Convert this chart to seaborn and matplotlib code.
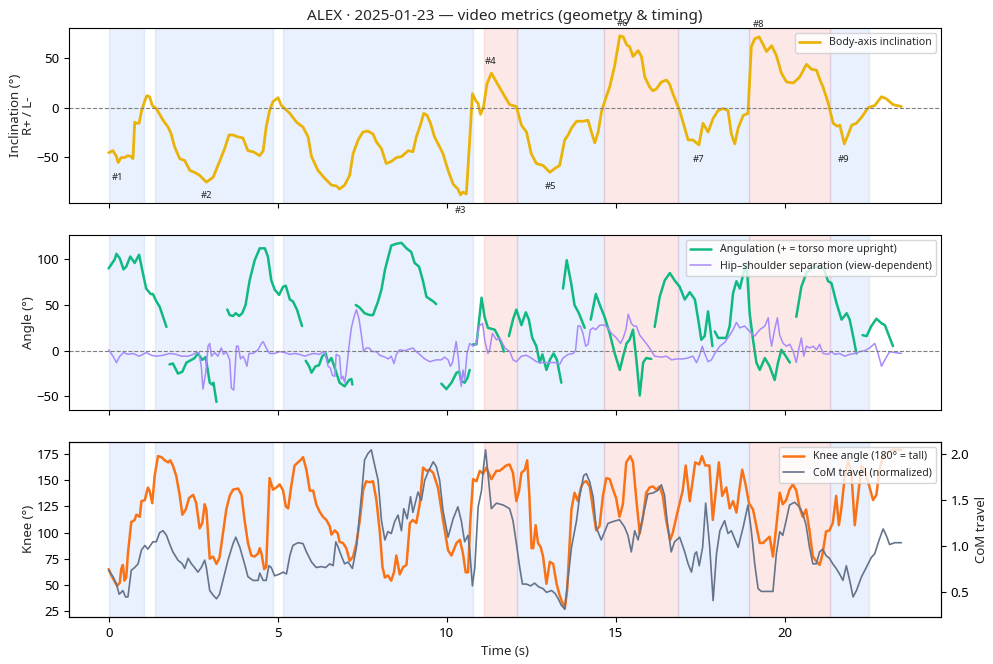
import numpy as np
import pandas as pd
import matplotlib
matplotlib.use("Agg")
import matplotlib.pyplot as plt
import seaborn as sns

# ---- data ----
# body-axis inclination (deg), R+ / L-
incl_t = [0, 0.13, 0.23, 0.28, 0.37, 0.47, 0.57, 0.67, 0.72, 0.77, 0.82, 0.9, 0.97, 1.07, 1.13, 1.21,
          1.29, 1.41, 1.61, 1.76, 1.85, 1.95, 2.1, 2.25, 2.4, 2.54, 2.69, 2.89, 3.09, 3.28, 3.43, 3.56,
          3.68, 3.83, 3.97, 4.12, 4.27, 4.47, 4.57, 4.66, 4.76, 4.86, 5.01, 5.11, 5.21, 5.36, 5.56, 5.75,
          5.9, 6.0, 6.19, 6.39, 6.59, 6.74, 6.83, 6.98, 7.13, 7.23, 7.38, 7.52, 7.67, 7.82, 7.92, 8.07,
          8.21, 8.36, 8.51, 8.66, 8.76, 8.86, 9.0, 9.1, 9.22, 9.32, 9.42, 9.52, 9.64, 9.79, 9.89, 10.04,
          10.19, 10.33, 10.41, 10.48, 10.58, 10.68, 10.76, 10.86, 10.93, 11.0, 11.09, 11.19, 11.32, 11.52,
          11.67, 11.86, 12.06, 12.21, 12.36, 12.5, 12.65, 12.85, 13.05, 13.2, 13.34, 13.49, 13.59, 13.69,
          13.84, 14.03, 14.18, 14.28, 14.38, 14.48, 14.58, 14.67, 14.82, 14.97, 15.12, 15.22, 15.32, 15.41,
          15.51, 15.66, 15.76, 15.86, 16.0, 16.1, 16.2, 16.35, 16.5, 16.59, 16.69, 16.89, 16.99, 17.14,
          17.28, 17.46, 17.58, 17.73, 17.88, 18.03, 18.17, 18.32, 18.42, 18.52, 18.62, 18.77, 18.91, 19.01,
          19.11, 19.24, 19.36, 19.46, 19.61, 19.75, 19.9, 20.05, 20.25, 20.44, 20.64, 20.79, 20.94, 21.03,
          21.13, 21.28, 21.43, 21.55, 21.63, 21.76, 21.88, 21.98, 22.12, 22.27, 22.47, 22.66, 22.86, 23.0,
          23.2, 23.45]
incl_v = [-46, -44, -50, -56, -51, -51, -49, -50, -52, -15, -16, -16, -4, 7, 12, 11,
          2, -1, -13, -20, -27, -40, -52, -54, -64, -66, -69, -76, -71, -55, -42, -28,
          -28, -30, -31, -44, -45, -49, -44, -20, -3, 6, 10, 2, -1, -6, -15, -20,
          -30, -50, -64, -72, -79, -80, -83, -79, -69, -47, -33, -25, -24, -27, -35, -42,
          -57, -55, -51, -50, -47, -44, -45, -30, -18, -6, -8, -16, -30, -40, -47, -64,
          -78, -83, -89, -86, -88, -33, 14, 7, 4, -7, 1, 24, 35, 23,
          14, 3, 1, -18, -25, -47, -57, -59, -66, -62, -59, -33, -28, -21,
          -14, -14, -13, -25, -36, -25, -4, 6, 21, 43, 73, 72, 64, 62,
          52, 58, 52, 31, 21, 17, 19, 26, 28, 24, 14, -3, -15, -33,
          -33, -38, -16, -25, -11, -3, -1, -3, -27, -37, -21, -8, -6, 62,
          70, 72, 64, 57, 63, 53, 35, 26, 25, 31, 44, 39, 38, 29,
          21, 5, -16, -19, -18, -37, -27, -18, -16, -10, 0, 2, 11, 9,
          3, 1]

# event labels (#n) with their anchor positions
event_names = ["#1", "#2", "#3", "#4", "#5", "#6", "#7", "#8", "#9"]
event_t = [0.25, 2.9, 10.4, 11.3, 13.07, 15.2, 17.46, 19.23, 21.75]
event_v = [-71, -90, -105, 47, -80, 86, -53, 85, -53]

# phase spans (start, end, kind)
span_start = [0.0, 1.38, 5.17, 11.1, 12.08, 14.65, 16.84, 18.94, 21.34]
span_end = [1.05, 4.87, 10.77, 12.08, 14.65, 16.84, 18.94, 21.34, 22.5]
span_kind = ["b", "b", "b", "r", "b", "r", "b", "r", "b"]

# angulation, broken into tracked segments
ang_seg_t = [
    [0, 0.18, 0.23, 0.33, 0.44, 0.52, 0.64, 0.77, 0.9, 1.0, 1.11, 1.24, 1.31, 1.41, 1.51, 1.61, 1.71],
    [1.8, 1.9, 2.05, 2.18, 2.3, 2.45, 2.54, 2.64, 2.77, 2.87, 2.99, 3.06, 3.1, 3.19],
    [3.51, 3.58, 3.68, 3.76, 3.86, 3.95, 4.05, 4.17, 4.32, 4.47, 4.62, 4.71, 4.81, 4.91, 5.04, 5.16,
     5.24, 5.36, 5.45, 5.57, 5.72],
    [5.83, 5.93, 6.0, 6.12, 6.22, 6.32, 6.42, 6.49, 6.59, 6.69, 6.83, 6.98, 7.11, 7.18, 7.21],
    [7.31, 7.43, 7.57, 7.72, 7.82, 7.97, 8.07, 8.17, 8.26, 8.36, 8.51, 8.66, 8.81, 8.95, 9.05, 9.18,
     9.3, 9.4, 9.52, 9.6, 9.69],
    [9.84, 9.99, 10.14, 10.29, 10.37, 10.43, 10.53, 10.61, 10.68],
    [10.78, 10.88, 10.96, 11.03, 11.12, 11.22, 11.42, 11.52, 11.62, 11.69],
    [11.84, 11.96, 12.06, 12.21, 12.34, 12.43, 12.53, 12.65, 12.75, 12.83, 12.95, 13.05, 13.16, 13.26,
     13.39],
    [13.44, 13.55, 13.68, 13.78, 13.91, 14.08],
    [14.26, 14.41, 14.55, 14.67, 14.82, 14.97, 15.12, 15.22, 15.32, 15.41, 15.51, 15.61, 15.71, 15.81,
     15.9, 16.05],
    [16.15, 16.3, 16.45, 16.6, 16.74, 16.89, 17.04, 17.19, 17.34, 17.44, 17.53, 17.63, 17.73, 17.86],
    [17.93, 18.03, 18.13, 18.27, 18.37, 18.47, 18.57, 18.67, 18.81, 18.87, 18.96, 19.06, 19.16, 19.26,
     19.41, 19.55, 19.7, 19.8, 19.9, 20.03, 20.15],
    [20.34, 20.49, 20.64, 20.84, 21.13, 21.28, 21.38, 21.53, 21.68, 21.83, 21.92, 22.02, 22.12],
    [22.3, 22.42, 22.56, 22.71, 22.86, 22.96, 23.2],
]
ang_seg_v = [
    [90, 100, 106, 101, 89, 92, 103, 96, 105, 87, 68, 62, 62, 54, 48, 37, 26],
    [-15, -14, -25, -23, -13, -10, -8, -3, -10, -7, -35, -37, -35, -56],
    [45, 39, 38, 41, 38, 41, 50, 77, 99, 112, 112, 103, 77, 67, 61, 70, 71, 56, 54, 45, 27],
    [-11, -17, -24, -17, -16, -6, -3, -13, -8, -19, -35, -39, -32, -31, -37],
    [50, 47, 41, 39, 39, 54, 67, 88, 101, 115, 117, 118, 112, 108, 96, 92, 76, 59, 56, 54, 51],
    [-36, -42, -35, -24, -23, -33, -35, -30, -21],
    [7, 7, 34, 58, 37, 25, 23, 16, 8, -1],
    [16, 34, 45, 28, 42, 34, 14, 5, -13, -4, -21, -10, -3, -10, -35],
    [68, 99, 74, 50, 41, 25],
    [34, 62, 48, 37, 19, -3, -21, -6, 8, 12, 23, -10, -49, -13, -8, -9],
    [26, 59, 77, 85, 77, 70, 56, 64, 56, 34, 12, 16, 43, 5],
    [21, 14, 14, 14, 27, 63, 76, 68, 90, 96, 41, 12, -13, -21, -8, -17, -32, -13, 1, -6, -13],
    [37, 70, 85, 92, 92, 76, 74, 52, 34, 41, 34, 16, -3],
    [17, 16, 27, 35, 30, 28, 5],
]

# hip-shoulder separation
sep_t = [0, 0.13, 0.23, 0.33, 0.44, 0.57, 0.72, 0.9, 1.01, 1.11, 1.26, 1.41, 1.61, 1.8, 2.0, 2.15,
         2.35, 2.5, 2.59, 2.67, 2.74, 2.79, 2.87, 2.94, 2.99, 3.04, 3.14, 3.23, 3.33, 3.4, 3.48, 3.58,
         3.63, 3.7, 3.78, 3.83, 3.9, 3.97, 4.02, 4.09, 4.15, 4.27, 4.42, 4.52, 4.57, 4.66, 4.76, 4.91,
         5.06, 5.21, 5.36, 5.5, 5.65, 5.8, 5.95, 6.09, 6.24, 6.34, 6.42, 6.49, 6.56, 6.62, 6.69, 6.73,
         6.83, 6.88, 6.93, 6.98, 7.03, 7.11, 7.18, 7.25, 7.33, 7.41, 7.48, 7.54, 7.62, 7.7, 7.8, 7.92,
         8.02, 8.17, 8.27, 8.36, 8.44, 8.51, 8.61, 8.76, 8.91, 9.0, 9.1, 9.2, 9.35, 9.5, 9.69, 9.84,
         9.94, 10.04, 10.11, 10.17, 10.28, 10.35, 10.39, 10.43, 10.48, 10.53, 10.6, 10.68, 10.78, 10.86,
         10.96, 11.06, 11.13, 11.22, 11.27, 11.35, 11.47, 11.57, 11.72, 11.87, 11.96, 12.06, 12.21, 12.36,
         12.5, 12.65, 12.8, 12.95, 13.1, 13.25, 13.34, 13.44, 13.59, 13.74, 13.81, 13.88, 13.95, 14.03,
         14.11, 14.18, 14.25, 14.33, 14.41, 14.53, 14.67, 14.77, 14.87, 15.02, 15.14, 15.22, 15.3, 15.37,
         15.46, 15.53, 15.61, 15.71, 15.86, 16.0, 16.15, 16.35, 16.5, 16.65, 16.79, 16.98, 17.13, 17.28,
         17.39, 17.47, 17.56, 17.63, 17.73, 17.83, 17.93, 18.08, 18.22, 18.37, 18.47, 18.57, 18.67, 18.81,
         18.91, 19.01, 19.11, 19.26, 19.41, 19.51, 19.56, 19.61, 19.7, 19.78, 19.85, 19.95, 20.05, 20.15,
         20.25, 20.34, 20.42, 20.49, 20.56, 20.64, 20.74, 20.84, 20.94, 21.03, 21.13, 21.28, 21.38, 21.48,
         21.62, 21.77, 21.92, 22.07, 22.22, 22.36, 22.51, 22.66, 22.76, 22.86, 22.96, 23.1, 23.25, 23.45]
sep_v = [1, -6, -13, -6, -2, -4, -3, -6, -4, -2, -5, -6, -5, -3, -4, -6,
         -6, -4, -2, -2, -17, -42, -24, 5, 8, -6, -2, -6, 3, -4, -1, -10,
         -41, -43, 5, 5, -9, -6, -9, -17, -3, -3, 1, 8, 10, 3, -3, -3,
         -1, -2, -4, -3, -4, -6, -4, -3, -4, -1, -5, -17, -19, -27, -28, -4,
         -6, -31, -28, -35, -23, 5, 25, 36, 45, 34, 16, -1, 3, 3, -1, -1,
         -5, -7, -9, -6, -14, -4, 1, 0, 2, 3, -1, -4, -9, -12, -10, -10,
         -7, -10, -17, -13, 10, -10, -28, -39, -21, -32, -3, 8, 5, 7,
         27, 30, 10, -3, 1, 19, 12, 14, 3, -1, -10, -12, -6, -5,
         -8, -12, -13, -13, -13, -13, -15, -8, -4, -3, 0, 27, 27, 19,
         5, 7, 23, 25, 23, 28, 28, 25, 19, 14, 8, 14, 23, 40,
         30, 27, 27, 17, 10, 3, -6, -7, -6, -10, -9, -9, -8, -6,
         -13, -6, 5, -3, -12, -10, -3, 5, 9, 17, 23, 31, 25, 27,
         23, 19, 16, 23, 27, 36, 16, 5, 23, 36, 17, 8, 5, 7,
         -1, -13, 3, 14, -6, 5, 3, 5, 1, 7, -3, -4, -1, -4,
         -3, -6, -4, -3, -1, 0, 3, 8, -3, -17, -10, -1, -2, -3]

# knee angle (deg)
knee_t = [0, 0.08, 0.18, 0.25, 0.33, 0.37, 0.42, 0.47, 0.52, 0.57, 0.67, 0.77, 0.82, 0.92, 0.97, 1.07,
          1.16, 1.21, 1.29, 1.36, 1.46, 1.56, 1.66, 1.76, 1.82, 1.9, 2.0, 2.1, 2.18, 2.28, 2.38, 2.5,
          2.59, 2.69, 2.77, 2.84, 2.89, 2.99, 3.09, 3.19, 3.28, 3.38, 3.48, 3.58, 3.68, 3.83, 3.93, 4.02,
          4.12, 4.22, 4.32, 4.42, 4.47, 4.52, 4.6, 4.66, 4.76, 4.86, 4.96, 5.06, 5.16, 5.24, 5.31, 5.4,
          5.5, 5.6, 5.7, 5.75, 5.85, 5.95, 6.05, 6.14, 6.24, 6.34, 6.44, 6.54, 6.59, 6.69, 6.78, 6.83,
          6.93, 7.03, 7.13, 7.23, 7.33, 7.43, 7.53, 7.62, 7.72, 7.82, 7.92, 8.02, 8.1, 8.17, 8.26, 8.36,
          8.44, 8.51, 8.61, 8.71, 8.81, 8.91, 9.0, 9.1, 9.2, 9.3, 9.4, 9.5, 9.6, 9.74, 9.89, 10.04,
          10.14, 10.29, 10.39, 10.48, 10.56, 10.63, 10.7, 10.78, 10.88, 10.98, 11.07, 11.17, 11.32, 11.47,
          11.57, 11.76, 11.86, 11.96, 12.06, 12.14, 12.21, 12.31, 12.38, 12.44, 12.51, 12.56, 12.63, 12.7,
          12.78, 12.85, 12.95, 13.05, 13.15, 13.25, 13.34, 13.49, 13.56, 13.69, 13.78, 13.88, 13.98, 14.05,
          14.13, 14.23, 14.33, 14.42, 14.52, 14.62, 14.72, 14.82, 14.92, 15.01, 15.11, 15.21, 15.31, 15.43,
          15.51, 15.61, 15.71, 15.8, 15.9, 16.0, 16.1, 16.2, 16.3, 16.39, 16.49, 16.61, 16.68, 16.83,
          16.98, 17.07, 17.19, 17.27, 17.35, 17.47, 17.55, 17.65, 17.77, 17.87, 17.97, 18.05, 18.15, 18.27,
          18.37, 18.47, 18.57, 18.67, 18.74, 18.84, 18.94, 19.06, 19.16, 19.26, 19.36, 19.45, 19.55, 19.65,
          19.75, 19.85, 19.94, 20.04, 20.14, 20.24, 20.34, 20.43, 20.53, 20.63, 20.73, 20.83, 20.92, 21.03,
          21.12, 21.22, 21.32, 21.42, 21.52, 21.6, 21.67, 21.77, 21.87, 21.97, 22.07, 22.17, 22.27, 22.36,
          22.46, 22.61, 22.71, 22.8, 22.9, 23.05, 23.2, 23.45]
knee_v = [65, 59, 53, 49, 52, 65, 69, 54, 57, 80, 110, 112, 117, 115, 130, 131,
          143, 140, 128, 154, 173, 172, 169, 167, 169, 164, 154, 136, 117, 122, 133, 136,
          128, 104, 109, 127, 122, 75, 77, 70, 76, 99, 122, 135, 141, 142, 136, 112,
          90, 78, 77, 80, 85, 80, 65, 67, 152, 141, 143, 146, 140, 125, 123, 144,
          164, 167, 170, 172, 160, 140, 140, 127, 120, 115, 112, 106, 98, 102, 99, 91,
          90, 85, 73, 77, 90, 112, 141, 149, 148, 149, 131, 101, 67, 57, 59, 54,
          62, 78, 60, 67, 69, 109, 112, 109, 127, 162, 159, 160, 157, 143, 112, 83,
          78, 90, 93, 80, 62, 62, 112, 151, 149, 159, 156, 162, 151, 159,
          159, 164, 165, 157, 130, 140, 157, 160, 169, 138, 85, 85, 107, 90,
          86, 77, 51, 72, 70, 51, 40, 27, 44, 122, 138, 130, 144, 148,
          149, 144, 122, 102, 106, 135, 152, 151, 141, 133, 115, 127, 167, 173,
          167, 131, 99, 114, 138, 143, 144, 141, 144, 135, 112, 93, 99, 120,
          140, 164, 130, 148, 167, 165, 173, 164, 164, 112, 143, 167, 135, 143,
          123, 130, 119, 144, 160, 146, 128, 122, 106, 90, 90, 93, 96, 77,
          106, 138, 127, 131, 141, 146, 140, 125, 115, 122, 102, 77, 73, 69,
          80, 101, 102, 109, 135, 107, 122, 152, 169, 157, 107, 136, 164, 160,
          149, 131, 136, 160, 172, 177, 179, 179]

# centre-of-mass travel (normalized)
com_t = [0, 0.13, 0.23, 0.31, 0.37, 0.42, 0.5, 0.57, 0.67, 0.77, 0.87, 0.97, 1.07, 1.16, 1.31, 1.41,
         1.51, 1.61, 1.71, 1.8, 1.9, 2.05, 2.18, 2.25, 2.35, 2.45, 2.54, 2.64, 2.74, 2.84, 2.89, 2.99,
         3.09, 3.19, 3.28, 3.38, 3.53, 3.68, 3.76, 3.88, 4.02, 4.12, 4.27, 4.42, 4.47, 4.57, 4.66, 4.74,
         4.81, 4.91, 5.06, 5.16, 5.26, 5.36, 5.45, 5.6, 5.75, 5.85, 6.0, 6.14, 6.29, 6.42, 6.54, 6.64,
         6.72, 6.79, 6.88, 6.98, 7.08, 7.21, 7.33, 7.48, 7.57, 7.67, 7.77, 7.87, 7.97, 8.07, 8.17, 8.26,
         8.36, 8.46, 8.56, 8.66, 8.73, 8.83, 8.93, 9.0, 9.15, 9.25, 9.35, 9.45, 9.6, 9.69, 9.79, 9.89,
         10.04, 10.19, 10.33, 10.43, 10.53, 10.63, 10.68, 10.76, 10.83, 10.93, 11.03, 11.09, 11.15, 11.22,
         11.32, 11.47, 11.67, 11.86, 11.96, 12.06, 12.16, 12.24, 12.36, 12.48, 12.6, 12.72, 12.85, 12.95,
         13.1, 13.2, 13.3, 13.39, 13.49, 13.59, 13.69, 13.84, 13.93, 14.05, 14.13, 14.23, 14.33, 14.42,
         14.57, 14.65, 14.77, 14.92, 15.11, 15.26, 15.36, 15.46, 15.56, 15.66, 15.8, 15.95, 16.1, 16.25,
         16.35, 16.44, 16.54, 16.64, 16.74, 16.89, 17.04, 17.14, 17.24, 17.34, 17.39, 17.47, 17.57, 17.66,
         17.78, 17.88, 17.98, 18.08, 18.22, 18.32, 18.42, 18.52, 18.62, 18.77, 18.91, 19.01, 19.11, 19.21,
         19.31, 19.46, 19.65, 19.75, 19.85, 19.94, 20.04, 20.14, 20.29, 20.43, 20.53, 20.63, 20.73, 20.83,
         20.93, 21.03, 21.12, 21.22, 21.32, 21.42, 21.52, 21.62, 21.72, 21.82, 21.92, 22.02, 22.12, 22.27,
         22.41, 22.56, 22.66, 22.79, 22.91, 23.0, 23.1, 23.25, 23.45]
com_v = [0.74, 0.67, 0.59, 0.48, 0.50, 0.52, 0.45, 0.45, 0.74, 0.77, 0.81, 0.96, 1.01, 0.97, 1.05, 1.05,
         1.15, 1.17, 1.12, 1.03, 0.94, 0.85, 0.81, 0.76, 0.87, 0.81, 0.77, 0.72, 0.77, 0.85, 0.77, 0.52,
         0.47, 0.43, 0.48, 0.63, 0.85, 1.03, 1.10, 0.99, 0.81, 0.67, 0.63, 0.63, 0.71, 0.63, 0.63, 0.79,
         0.77, 0.68, 0.70, 0.72, 0.70, 0.90, 1.01, 1.04, 1.03, 0.94, 0.83, 0.77, 0.78, 0.77, 0.81, 0.79,
         1.05, 0.99, 0.90, 0.81, 0.83, 0.76, 0.99, 1.56, 1.94, 2.01, 2.05, 1.88, 1.72, 1.28, 1.07, 1.16,
         1.14, 1.27, 1.34, 1.17, 1.41, 1.30, 1.54, 1.37, 1.59, 1.50, 1.72, 1.81, 1.92, 1.87, 1.72, 1.39,
         1.10, 1.30, 1.43, 1.28, 1.05, 1.12, 0.96, 0.57, 0.77, 1.43, 1.61, 1.87, 2.05, 1.79,
         1.41, 1.47, 1.45, 1.41, 1.28, 1.03, 0.77, 0.59, 0.59, 0.57, 0.60, 0.56, 0.54, 0.50,
         0.52, 0.49, 0.43, 0.36, 0.32, 0.65, 0.99, 1.28, 1.54, 1.77, 1.79, 1.70, 1.54, 1.21,
         1.07, 1.14, 1.25, 1.27, 1.29, 1.21, 1.12, 0.94, 1.17, 1.07, 1.32, 1.57, 1.58, 1.61,
         1.67, 1.56, 1.21, 0.94, 1.05, 1.10, 0.94, 0.81, 0.72, 0.92, 0.94, 0.79, 0.99, 1.47,
         0.99, 0.41, 0.92, 1.17, 1.28, 1.14, 1.17, 1.08, 0.99, 1.21, 1.45, 1.17, 0.81, 0.54,
         0.51, 0.51, 0.51, 0.92, 1.16, 1.12, 1.28, 1.45, 1.48, 1.43, 1.36, 1.23, 0.99, 0.81,
         0.81, 0.94, 0.97, 0.90, 0.87, 0.81, 0.76, 0.70, 0.63, 0.79, 0.63, 0.45, 0.52, 0.67,
         0.77, 0.88, 0.92, 1.07, 1.19, 1.12, 1.02, 1.04, 1.04]

# ---- style ----
sns.set_style("ticks")
plt.rcParams["font.family"] = ["Noto Sans", "DejaVu Sans"]
plt.rcParams["axes.edgecolor"] = "black"
plt.rcParams["xtick.color"] = "black"
plt.rcParams["ytick.color"] = "black"
plt.rcParams["xtick.labelsize"] = 9.5
plt.rcParams["ytick.labelsize"] = 9.5
plt.rcParams["axes.labelsize"] = 9.5

C_INCL = "#eab308"
C_ANG = "#10b981"
C_SEP = "#a78bfa"
C_KNEE = "#f97316"
C_COM = "#64748b"
SPAN_COL = {"b": "#4f86f7", "r": "#ef4444"}


def add_spans(ax):
    for s, e, k in zip(span_start, span_end, span_kind):
        ax.axvspan(s, e, color=SPAN_COL[k], alpha=0.12, zorder=0)


fig, axs = plt.subplots(3, 1, figsize=(9.93, 6.64), dpi=100, sharex=True)
fig.subplots_adjust(left=0.0695, right=0.9477, top=0.958, bottom=0.071, hspace=0.183)

# panel 1: inclination
ax = axs[0]
add_spans(ax)
sns.lineplot(x=incl_t, y=incl_v, ax=ax, color=C_INCL, lw=2, estimator=None,
             label="Body-axis inclination")
ax.axhline(0, color="grey", ls="--", lw=0.8)
for name, t, v in zip(event_names, event_t, event_v):
    ax.text(t, v, name, fontsize=6.8, ha="center", va="center", color="#222222", clip_on=False)
ax.set_ylabel("Inclination (°)\nR+ / L-", linespacing=1.0, labelpad=1)
ax.set_title("ALEX · 2025-01-23 — video metrics (geometry & timing)", fontsize=11)
ax.legend(loc="upper right", fontsize=7.6)

# panel 2: angulation + separation
ax = axs[1]
add_spans(ax)
for i, (st, sv) in enumerate(zip(ang_seg_t, ang_seg_v)):
    sns.lineplot(x=st, y=sv, ax=ax, color=C_ANG, lw=1.8, estimator=None,
                 label="Angulation (+ = torso more upright)" if i == 0 else None, legend=False)
sns.lineplot(x=sep_t, y=sep_v, ax=ax, color=C_SEP, lw=1.1, estimator=None,
             label="Hip–shoulder separation (view-dependent)", legend=False)
ax.axhline(0, color="grey", ls="--", lw=0.8)
ax.set_ylabel("Angle (°)", labelpad=1)
ax.legend(loc="upper right", fontsize=7.6)

# panel 3: knee + CoM travel
ax = axs[2]
add_spans(ax)
sns.lineplot(x=knee_t, y=knee_v, ax=ax, color=C_KNEE, lw=1.8, estimator=None,
             label="Knee angle (180° = tall)", legend=False)
ax.set_ylabel("Knee (°)", labelpad=1)
ax.set_xlabel("Time (s)")
ax.set_yticks([25, 50, 75, 100, 125, 150, 175])
ax2 = ax.twinx()
sns.lineplot(x=com_t, y=com_v, ax=ax2, color=C_COM, lw=1.2, estimator=None,
             label="CoM travel (normalized)", legend=False)
ax2.set_ylabel("CoM travel")
ax2.set_yticks([0.5, 1.0, 1.5, 2.0])
h1, l1 = ax.get_legend_handles_labels()
h2, l2 = ax2.get_legend_handles_labels()
ax2.legend(h1 + h2, l1 + l2, loc="upper right", fontsize=7.6)

axs[2].set_xticks([0, 5, 10, 15, 20])

fig.savefig("out.png", dpi=100)
